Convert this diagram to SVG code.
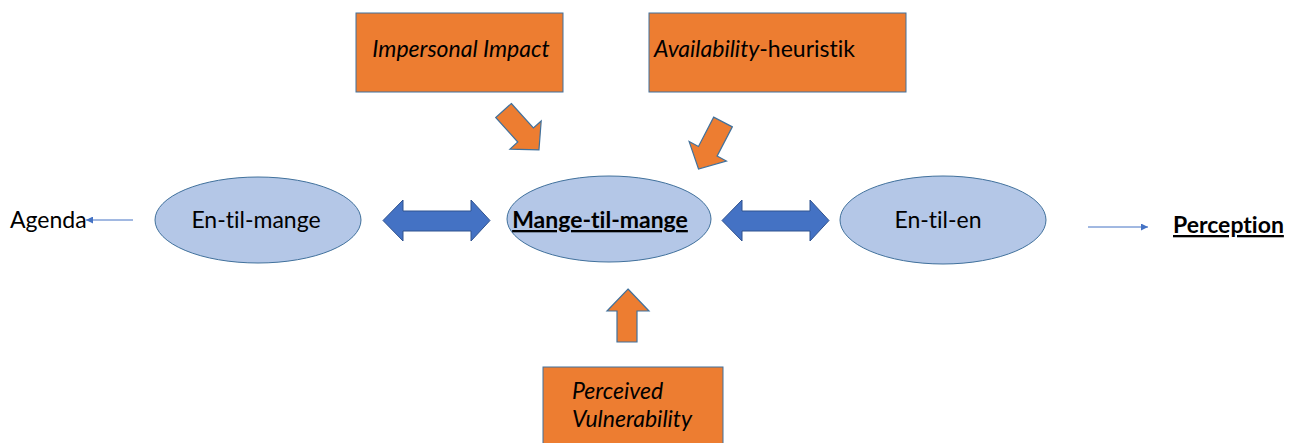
<svg xmlns="http://www.w3.org/2000/svg" width="1292" height="443" viewBox="0 0 1292 443">
<defs>
<style>
.box{fill:#ED7D31;stroke:#41719C;stroke-width:1}
.ell{fill:#B4C7E7;stroke:#41719C;stroke-width:1}
.barrow{fill:#ED7D31;stroke:#41719C;stroke-width:1.2;stroke-linejoin:miter}
.darrow{fill:#4472C4;stroke:#2F528F;stroke-width:1}
.line{stroke:#4472C4;stroke-width:1;fill:none}
text{font-family:Lato,"Liberation Sans",sans-serif;font-size:23px;fill:#000;font-variant-ligatures:none;font-feature-settings:"liga" 0,"dlig" 0}
.it{font-style:italic}
.b{font-weight:bold;text-decoration:underline}
</style>
<marker id="ah" viewBox="0 0 10 10" refX="10" refY="5" markerWidth="7" markerHeight="7" markerUnits="userSpaceOnUse" orient="auto">
<path d="M0,0 L10,5 L0,10 Z" fill="#4472C4"/>
</marker>
</defs>
<rect width="1292" height="443" fill="#fff"/>
<g id="connectors">
<path class="barrow" d="M0,-10.5 L33,-10.5 L33,-21 L53,0 L33,21 L33,10.5 L0,10.5 Z" transform="translate(503.5,110.5) rotate(48)"/>
<path class="barrow" d="M0,-10.5 L33,-10.5 L33,-21 L53,0 L33,21 L33,10.5 L0,10.5 Z" transform="translate(723,122) rotate(117.5)"/>
<path class="barrow" d="M628,289 L649,311 L637,311 L637,342 L617,342 L617,311 L607,311 Z"/>
<path class="darrow" d="M383,220.5 L403,200 L403,211 L471,211 L471,200 L490,220.5 L471,241 L471,231 L403,231 L403,241 Z"/>
<path class="darrow" d="M722,220.5 L742,200 L742,211 L810,211 L810,200 L829,220.5 L810,241 L810,231 L742,231 L742,241 Z"/>
<line class="line" x1="133" y1="220" x2="86" y2="220" marker-end="url(#ah)"/>
<line class="line" x1="1088" y1="227" x2="1148" y2="227" marker-end="url(#ah)"/>
</g>
<g id="impersonal-impact">
<rect class="box" x="356" y="13" width="207" height="79"/>
<text class="it" x="461" y="57" text-anchor="middle">Impersonal Impact</text>
</g>
<g id="availability">
<rect class="box" x="649" y="13" width="257" height="79"/>
<text x="654" y="57"><tspan class="it">Availability</tspan>-heuristik</text>
</g>
<g id="perceived-vulnerability">
<rect class="box" x="543" y="367" width="180" height="90"/>
<text class="it" x="572" y="399">Perceived</text>
<text class="it" x="572" y="427">Vulnerability</text>
</g>
<g id="en-til-mange">
<ellipse class="ell" cx="258" cy="220" rx="103" ry="43"/>
<text x="256" y="228" text-anchor="middle">En-til-mange</text>
</g>
<g id="mange-til-mange">
<ellipse class="ell" cx="609" cy="219" rx="102" ry="43"/>
<text class="b" x="600" y="228" text-anchor="middle">Mange-til-mange</text>
</g>
<g id="en-til-en">
<ellipse class="ell" cx="943" cy="220" rx="103" ry="44"/>
<text x="938" y="228" text-anchor="middle">En-til-en</text>
</g>
<g id="agenda">
<text x="10" y="228" font-size="22">Agenda</text>
</g>
<g id="perception">
<text class="b" x="1173" y="233">Perception</text>
</g>
</svg>
